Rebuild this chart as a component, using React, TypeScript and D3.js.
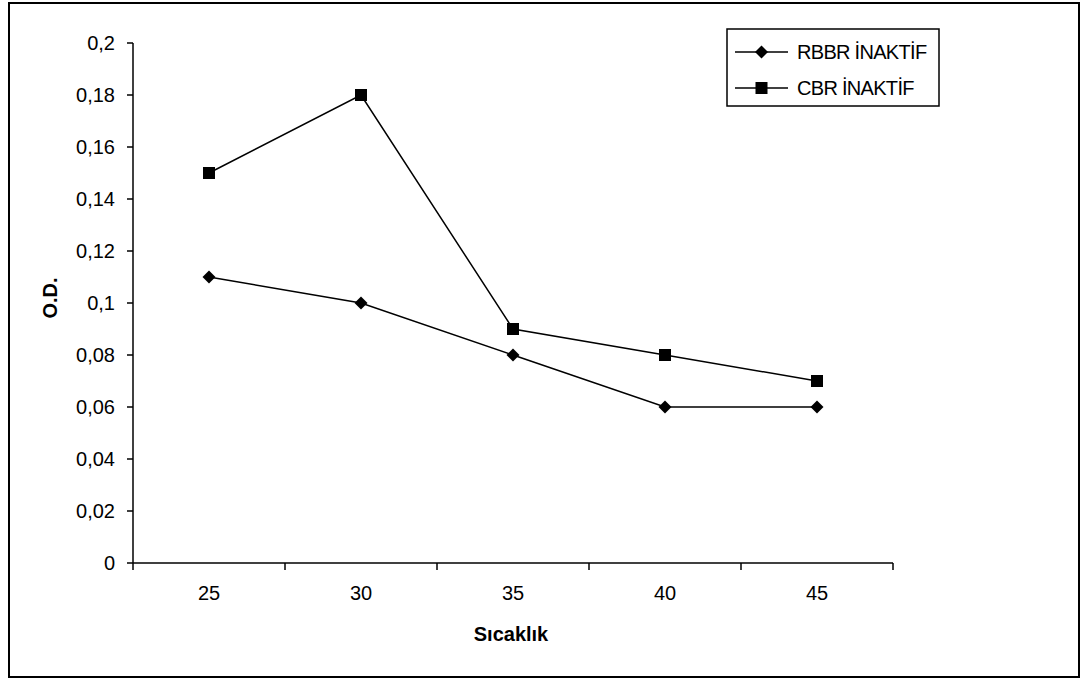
import * as d3 from "d3";

const categories = ["25", "30", "35", "40", "45"];
const rbbr = [0.11, 0.1, 0.08, 0.06, 0.06];
const cbr = [0.15, 0.18, 0.09, 0.08, 0.07];
const yTicks = [0, 0.02, 0.04, 0.06, 0.08, 0.1, 0.12, 0.14, 0.16, 0.18, 0.2];

const W = 1086;
const H = 681;
const FONT = "'Liberation Sans', Arial, sans-serif";

export default function App() {
  const x = d3.scaleBand().domain(categories).range([133, 893]);
  const y = d3.scaleLinear().domain([0, 0.2]).range([563, 43]);
  const cx = (c: string) => (x(c) ?? 0) + x.bandwidth() / 2;

  const line = d3
    .line<number>()
    .x((_, i) => cx(categories[i]))
    .y((d) => y(d));

  const fmt = (v: number) => String(+v.toFixed(2)).replace(".", ",");
  const diamond = (px: number, py: number, r = 6.5) =>
    `M${px},${py - r}L${px + r},${py}L${px},${py + r}L${px - r},${py}Z`;

  const bandEdges = [...categories.map((c) => x(c) ?? 0), 893];

  return (
    <svg
      width={W}
      height={H}
      style={{ position: "absolute", left: 0, top: 0 }}
      fontFamily={FONT}
    >
      <rect x={0} y={0} width={W} height={H} fill="white" />
      <rect x={9} y={3} width={1070} height={674} fill="none" stroke="black" strokeWidth={2} />

      {/* y axis */}
      <line x1={133} x2={133} y1={y(0.2)} y2={y(0)} stroke="black" strokeWidth={1.5} />
      {yTicks.map((t) => (
        <g key={t}>
          <line x1={127} x2={133} y1={y(t)} y2={y(t)} stroke="black" strokeWidth={1.5} />
          <text x={115} y={y(t)} dy="0.36em" textAnchor="end" fontSize={20}>
            {fmt(t)}
          </text>
        </g>
      ))}

      {/* x axis */}
      <line x1={133} x2={893} y1={y(0)} y2={y(0)} stroke="black" strokeWidth={1.5} />
      {bandEdges.map((e, i) => (
        <line key={i} x1={e} x2={e} y1={y(0)} y2={y(0) + 7} stroke="black" strokeWidth={1.5} />
      ))}
      {categories.map((c) => (
        <text key={c} x={cx(c)} y={600} textAnchor="middle" fontSize={20}>
          {c}
        </text>
      ))}

      <text x={511} y={641} textAnchor="middle" fontSize={20} fontWeight="bold">
        Sıcaklık
      </text>
      <text
        transform={`translate(57,298) rotate(-90)`}
        textAnchor="middle"
        fontSize={20}
        fontWeight="bold"
      >
        O.D.
      </text>

      {/* series */}
      <path d={line(rbbr) ?? ""} fill="none" stroke="black" strokeWidth={1.5} />
      <path d={line(cbr) ?? ""} fill="none" stroke="black" strokeWidth={1.5} />
      {rbbr.map((v, i) => (
        <path key={"r" + i} d={diamond(cx(categories[i]), y(v))} fill="black" />
      ))}
      {cbr.map((v, i) => (
        <rect key={"c" + i} x={cx(categories[i]) - 6} y={y(v) - 6} width={12} height={12} fill="black" />
      ))}

      {/* legend */}
      <rect x={727} y={29} width={212} height={77} fill="white" stroke="black" strokeWidth={1.5} />
      <line x1={735} x2={788} y1={52} y2={52} stroke="black" strokeWidth={1.5} />
      <path d={diamond(761.5, 52)} fill="black" />
      <text x={797} y={52} dy="0.36em" fontSize={20} letterSpacing={-0.7}>
        RBBR İNAKTİF
      </text>
      <line x1={735} x2={788} y1={88} y2={88} stroke="black" strokeWidth={1.5} />
      <rect x={755.5} y={82} width={12} height={12} fill="black" />
      <text x={797} y={88} dy="0.36em" fontSize={20} letterSpacing={-0.7}>
        CBR İNAKTİF
      </text>
    </svg>
  );
}
